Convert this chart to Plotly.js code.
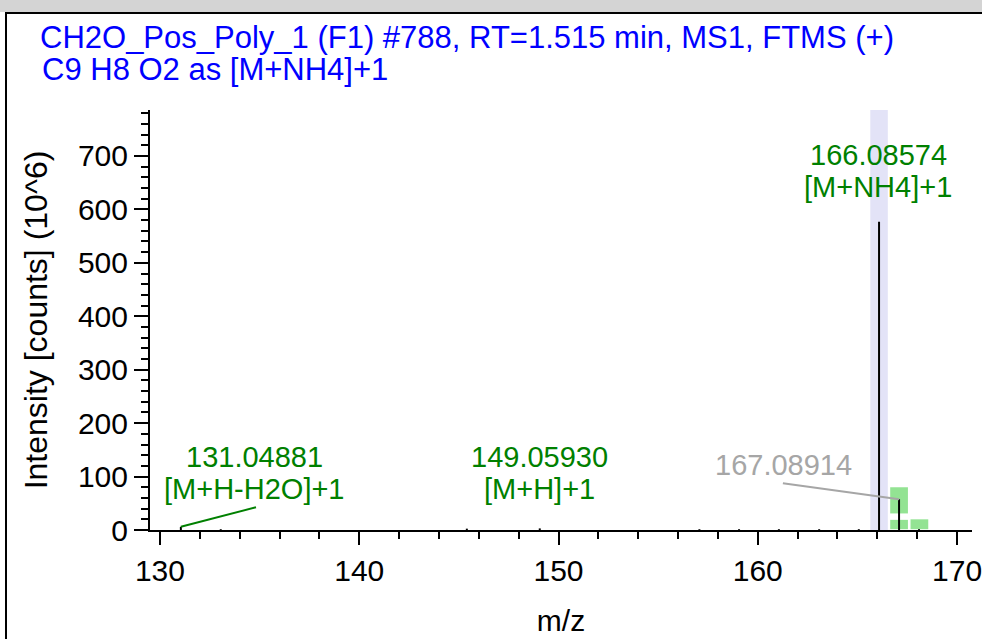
<!DOCTYPE html>
<html>
<head>
<meta charset="utf-8">
<script src="https://cdn.plot.ly/plotly-3.0.1.min.js"></script>
<style>
  html, body { margin: 0; padding: 0; background: #ffffff; }
  #wrap { position: relative; width: 982px; height: 639px; overflow: hidden; background: #ffffff; }
  #topstrip { position: absolute; left: 0; top: 0; width: 982px; height: 12px; background: #d4d4d4; }
  #frame { position: absolute; left: 5px; top: 12px; width: 990px; height: 640px;
           border-left: 2.5px solid #000; border-top: 2.5px solid #000; box-sizing: border-box; }
  #chart { position: absolute; left: 0; top: 0; width: 982px; height: 639px; }
</style>
</head>
<body>
<div id="wrap">
  <div id="topstrip"></div>
  <div id="frame"></div>
  <div id="chart"></div>
</div>
<script>
// ---- data ----
const titleLine1 = "CH2O_Pos_Poly_1 (F1) #788, RT=1.515 min, MS1, FTMS (+)";
const titleLine2 = "C9 H8 O2 as [M+NH4]+1";

// centroid peaks: m/z and intensity (10^6 counts)
const peakMz        = [131.04881, 133.05, 145.40, 149.05930, 157.07, 159.06, 161.06, 163.08, 165.07, 166.08574, 167.08914, 168.09];
const peakIntensity = [6,         1.5,    2.5,    3,         1.5,    1.5,    1.5,    1.5,    1.5,    577,       57.5,      1.5];

// labelled peaks
const labelMz    = [131.04881, 149.05930, 166.08574, 167.08914];
const labelValue = ["131.04881", "149.05930", "166.08574", "167.08914"];
const labelIon   = ["[M+H-H2O]+1", "[M+H]+1", "[M+NH4]+1", ""];
const labelMatched = [true, true, true, false];

// extraction window of the target ion
const targetMz = 166.08574;
const windowHalf = 0.44;

// expected isotope boxes: centre m/z, low and high intensity
const isoMz   = [167.09, 167.09, 168.11];
const isoLow  = [31,     1.5,    1.5];
const isoHigh = [80,     19,     20];

// axis ticks
const xTickVals = [130, 140, 150, 160, 170];
const yTickVals = [0, 100, 200, 300, 400, 500, 600, 700];

// ---- build ----
const GREEN = "#008000";
const GREY = "#a6a6a6";
const FONT = "Liberation Sans, Arial, sans-serif";
const FS_ANN = 29, FS_TICK = 30, FS_TITLE = 31, FS_YTITLE = 32;

// plot area in pixels (for placing the header text in paper units)
const PL = 150, PR = 972, PT = 110, PB = 530;
const px2paperX = X => (X - PL) / (PR - PL);
const px2paperY = Y => (PB - Y) / (PB - PT);

const stemX = [], stemY = [];
peakMz.forEach((m, i) => { stemX.push(m, m, null); stemY.push(0, peakIntensity[i], null); });

const traces = [{
  x: stemX, y: stemY, type: "scatter", mode: "lines",
  line: { color: "#000000", width: 2 }, hoverinfo: "skip", showlegend: false, cliponaxis: false
}];

const shapes = [];
shapes.push({ type: "rect", xref: "x", yref: "paper", x0: targetMz - windowHalf, x1: targetMz + windowHalf,
  y0: 0, y1: 1, fillcolor: "#e3e3f7", line: { width: 0 }, layer: "below" });
isoMz.forEach((m, i) => {
  shapes.push({ type: "rect", xref: "x", yref: "y", x0: m - 0.445, x1: m + 0.445, y0: isoLow[i], y1: isoHigh[i],
    fillcolor: "#93e393", line: { width: 0 }, layer: "below" });
});

const labelPos = [
  { x: 134.72, y1: 137, y2: 76.5, lx: 134.82, ly: 42.5 },
  { x: 149.06, y1: 137, y2: 76.5, lx: null, ly: null },
  { x: 166.04, y1: 701, y2: 642, lx: null, ly: null },
  { x: 161.27, y1: 122, y2: null, lx: 161.26, ly: 87.4 }
];

const annotations = [];
labelMz.forEach((m, i) => {
  const p = labelPos[i];
  const col = labelMatched[i] ? GREEN : GREY;
  const k = peakMz.indexOf(m);
  annotations.push({ x: p.x, y: p.y1, xref: "x", yref: "y", text: labelValue[i], showarrow: false,
    font: { family: FONT, size: FS_ANN, color: col }, xanchor: "center", yanchor: "middle" });
  if (labelIon[i] && p.y2 !== null) {
    annotations.push({ x: p.x, y: p.y2, xref: "x", yref: "y", text: labelIon[i], showarrow: false,
      font: { family: FONT, size: FS_ANN, color: col }, xanchor: "center", yanchor: "middle" });
  }
  if (p.lx !== null) {
    shapes.push({ type: "line", xref: "x", yref: "y", x0: m, y0: peakIntensity[k], x1: p.lx, y1: p.ly,
      line: { color: col, width: 2 }, layer: "above" });
  }
});
annotations.push({ xref: "paper", yref: "paper", x: px2paperX(40), y: px2paperY(70),
  text: titleLine2, showarrow: false, xanchor: "left", yanchor: "middle",
  font: { family: FONT, size: FS_TITLE, color: "#0000ff" } });

const layout = {
  width: 982, height: 639,
  margin: { l: PL, r: 982 - PR, t: PT, b: 639 - PB, pad: 0 },
  paper_bgcolor: "rgba(0,0,0,0)", plot_bgcolor: "rgba(0,0,0,0)",
  showlegend: false,
  title: { text: titleLine1, x: 40 / 982, xref: "container", xanchor: "left",
           y: 1 - 37 / 639, yref: "container", yanchor: "middle",
           font: { family: FONT, size: FS_TITLE, color: "#0000ff" } },
  xaxis: {
    range: [129.5, 170.75], tickvals: xTickVals, ticktext: xTickVals.map(String),
    ticks: "outside", ticklen: 13, tickwidth: 2, tickcolor: "#000", ticklabeloverflow: "allow",
    minor: { dtick: 2, tick0: 130, ticks: "outside", ticklen: 7, tickwidth: 2, tickcolor: "#000", showgrid: false },
    showline: true, linecolor: "#000", linewidth: 2, showgrid: false, zeroline: false,
    tickfont: { family: FONT, size: FS_TICK, color: "#000" },
    title: { text: "m/z", font: { family: FONT, size: FS_TICK, color: "#000" }, standoff: 24 },
    automargin: false
  },
  yaxis: {
    range: [0, 786], tickvals: yTickVals, ticktext: yTickVals.map(String),
    ticks: "outside", ticklen: 14, tickwidth: 2, tickcolor: "#000",
    minor: { dtick: 20, tick0: 0, ticks: "outside", ticklen: 7, tickwidth: 2, tickcolor: "#000", showgrid: false },
    showline: true, linecolor: "#000", linewidth: 2, showgrid: false, zeroline: false,
    tickfont: { family: FONT, size: FS_TICK, color: "#000" },
    title: { text: "Intensity [counts] (10^6)", font: { family: FONT, size: FS_YTITLE, color: "#000" }, standoff: 21 },
    automargin: false
  },
  shapes: shapes,
  annotations: annotations
};

Plotly.newPlot("chart", traces, layout, { displayModeBar: false, staticPlot: true });
</script>
</body>
</html>
